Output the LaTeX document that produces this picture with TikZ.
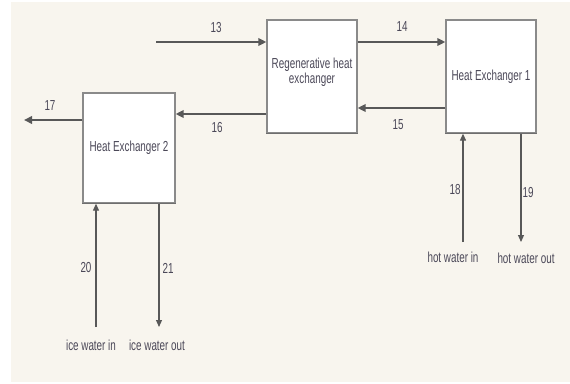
\documentclass[tikz,border=0pt]{standalone}
\usepackage{fontspec}
\setmainfont{Liberation Sans}[FakeStretch=0.68]
\usetikzlibrary{arrows.meta}
\definecolor{bgcream}{HTML}{F8F5EE}
\definecolor{linegray}{HTML}{585858}
\definecolor{boxgray}{HTML}{8A8A8A}
\definecolor{txtgray}{HTML}{4B4858}
\tikzset{
  unitbox/.style={draw=boxgray, line width=1.3pt, fill=white, minimum width=90pt, minimum height=113pt, inner sep=2pt, align=center, text=txtgray, font=\fontsize{14.5}{15}\selectfont},
  mainflow/.style={draw=linegray, line width=2.3pt, -{Triangle[length=8pt,width=7.5pt]}},
  utilflow/.style={draw=linegray, line width=1.1pt, -{Triangle[length=7pt,width=6pt]}},
  lbl/.style={text=txtgray, font=\fontsize{14.5}{15}\selectfont, inner sep=0pt}
}
\begin{document}
\begin{tikzpicture}[x=1pt,y=-1pt]
\useasboundingbox (0,0) rectangle (570,383);
\fill[white] (0,0) rectangle (570,383);
\fill[bgcream] (11,2) rectangle (570,382);

\node[unitbox] (regen) at (312,76.5) {};
\node[lbl, align=center] (regentxt) at (312,72) {Regenerative heat\\exchanger};
\node[unitbox] (hx1) at (491,76.5) {Heat Exchanger 1};
\node[unitbox, minimum width=92pt, minimum height=110pt] (hx2) at (129,148) {Heat Exchanger 2};
% shadows on bottom edges
\draw[boxgray!80!black, line width=1.6pt] (regen.south west) -- (regen.south east);
\draw[boxgray!80!black, line width=1.6pt] (hx1.south west) -- (hx1.south east);
\draw[boxgray!80!black, line width=1.6pt] (hx2.south west) -- (hx2.south east);

\coordinate (c13) at (156,42);
\coordinate (y15) at (0,108);
\coordinate (y16) at (0,114);
\coordinate (c17) at (24,120);
\coordinate (c18) at (463,242);
\coordinate (c19) at (521,242);
\coordinate (c20) at (96,327);
\coordinate (c21) at (159,327);

\draw[mainflow] (c13) -- (c13 -| regen.west);
\draw[mainflow] (regen.east |- c13) -- (hx1.west |- c13);
\draw[mainflow] (hx1.west |- y15) -- (regen.east |- y15);
\draw[mainflow] (regen.west |- y16) -- (hx2.east |- y16);
\draw[mainflow] (hx2.west |- c17) -- (c17);
\draw[utilflow] (c18) -- (c18 |- hx1.south);
\draw[utilflow] (c19 |- hx1.south) -- (c19);
\draw[utilflow] (c20) -- (c20 |- hx2.south);
\draw[utilflow] (c21 |- hx2.south) -- (c21);

\node[lbl] (l13) at (216,28) {13};
\node[lbl] (l14) at (402,27) {14};
\node[lbl] (l15) at (398,125) {15};
\node[lbl] (l16) at (217,128) {16};
\node[lbl] (l17) at (50,106) {17};
\node[lbl] (l18) at (455,190) {18};
\node[lbl] (l19) at (528,193) {19};
\node[lbl] (l20) at (86,268) {20};
\node[lbl] (l21) at (168,268) {21};
\node[lbl] (hwin) at (453,257) {hot water in};
\node[lbl] (hwout) at (526,258) {hot water out};
\node[lbl] (iwin) at (91,345) {ice water in};
\node[lbl] (iwout) at (157,345) {ice water out};
\end{tikzpicture}
\end{document}
